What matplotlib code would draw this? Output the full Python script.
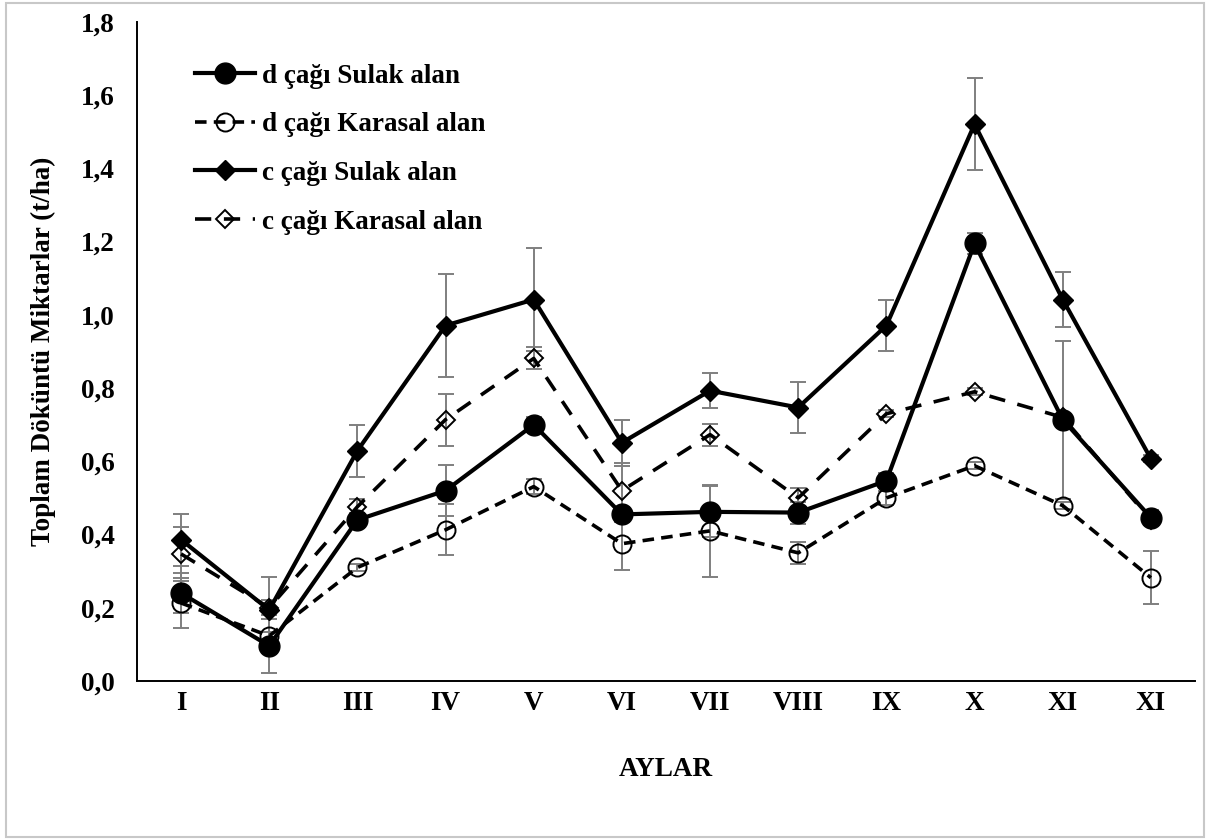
import matplotlib
matplotlib.use("Agg")
import matplotlib.pyplot as plt
from matplotlib.patches import Rectangle

months = ["I", "II", "III", "IV", "V", "VI", "VII", "VIII", "IX", "X", "XI", "XI"]

d_sulak = [0.240, 0.096, 0.440, 0.520, 0.700, 0.455, 0.462, 0.460, 0.547, 1.195, 0.714, 0.446]
d_sulak_err = [0.055, 0.074, 0.020, 0.070, 0.020, 0.020, 0.070, 0.030, 0.020, 0.030, 0.216, 0.020]

d_karasal = [0.213, 0.123, 0.310, 0.413, 0.531, 0.375, 0.410, 0.350, 0.500, 0.588, 0.479, 0.282]
d_karasal_err = [0.068, 0.010, 0.010, 0.070, 0.020, 0.072, 0.125, 0.030, 0.020, 0.010, 0.010, 0.072]

c_sulak = [0.386, 0.194, 0.629, 0.971, 1.042, 0.651, 0.793, 0.747, 0.971, 1.521, 1.042, 0.607]
c_sulak_err = [0.071, 0.090, 0.071, 0.142, 0.140, 0.063, 0.047, 0.070, 0.070, 0.125, 0.076, 0.010]

c_karasal = [0.347, 0.200, 0.476, 0.714, 0.881, 0.520, 0.673, 0.500, 0.730, 0.790, 0.720, 0.440]
c_karasal_err = [0.073, 0.020, 0.020, 0.071, 0.030, 0.075, 0.030, 0.028, 0.010, 0.010, 0.010, 0.010]

labels = ["d çağı Sulak alan", "d çağı Karasal alan", "c çağı Sulak alan", "c çağı Karasal alan"]
y_ticks = [0.0, 0.2, 0.4, 0.6, 0.8, 1.0, 1.2, 1.4, 1.6, 1.8]

plt.rcParams['font.family'] = ['Liberation Serif', 'DejaVu Serif']
plt.rcParams['font.weight'] = 'bold'

fig = plt.figure(figsize=(12.09, 8.40), dpi=100)
ax = fig.add_axes([0.1133, 0.1893, 0.8751, 0.7845])

x = list(range(len(months)))
ecol = '#7f7f7f'

series = [
    (d_sulak, d_sulak_err, dict(ls='-', lw=3.0, marker='o', ms=15, mfc='black', mec='black')),
    (d_karasal, d_karasal_err, dict(ls=(0, (3.2, 2.0)), lw=2.6, marker='o', ms=13, mfc='none', mec='black', mew=1.4)),
    (c_sulak, c_sulak_err, dict(ls='-', lw=3.0, marker='D', ms=10, mfc='black', mec='black')),
    (c_karasal, c_karasal_err, dict(ls=(0, (4.5, 3.5)), lw=2.6, marker='D', ms=9.5, mfc='none', mec='black', mew=1.4)),
]

for vals, err, _ in series:
    ax.errorbar(x, vals, yerr=err, fmt='none', ecolor=ecol, elinewidth=1.4,
                capsize=5.5, capthick=1.4, zorder=2)

for (vals, err, st), lab in zip(series, labels):
    ax.plot(x, vals, color='black', label=lab, zorder=3, **st)

ax.set_xlim(-0.5, 11.5)
ax.set_ylim(0, 1.8)
ax.set_xticks(x)
ax.set_xticklabels(months)
ax.set_yticks(y_ticks)
ax.set_yticklabels([f"{v:.1f}".replace('.', ',') for v in y_ticks])
ax.tick_params(axis='both', length=0, labelsize=19.5)
ax.tick_params(axis='y', pad=16)
ax.tick_params(axis='x', pad=7)
for s in ['top', 'right']:
    ax.spines[s].set_visible(False)
for s in ['left', 'bottom']:
    ax.spines[s].set_linewidth(1.4)
    ax.spines[s].set_color('black')

ax.set_xlabel("AYLAR", fontsize=19.5, fontweight='bold')
ax.set_ylabel("Toplam Döküntü Miktarlar (t/ha)", fontsize=19.5, fontweight='bold')
ax.xaxis.set_label_coords(0.5, -0.116)
ax.yaxis.set_label_coords(-0.0766, 0.5)

leg = ax.legend(loc='upper left', bbox_to_anchor=(0.0548, 0.937), frameon=False,
                fontsize=19.5, handlelength=2.2, handletextpad=0.26, labelspacing=0.875,
                borderaxespad=0, borderpad=0)

fig.patches.append(Rectangle((0.005, 0.003), 0.991, 0.994, transform=fig.transFigure,
                             fill=False, ec='#c8c8c8', lw=1.5))

fig.savefig("out.png", dpi=100)
